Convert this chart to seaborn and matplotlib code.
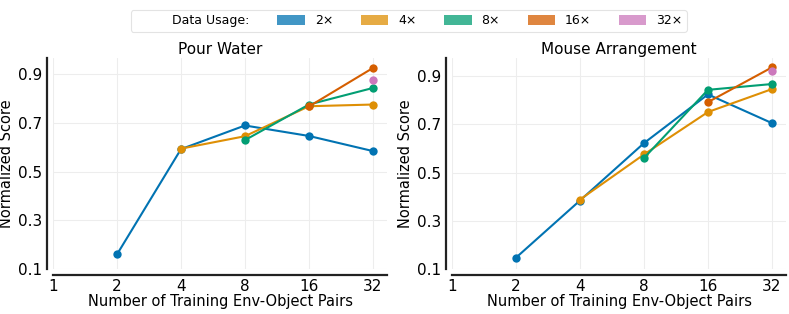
import numpy as np
import pandas as pd
import matplotlib
matplotlib.use("Agg")
import matplotlib.pyplot as plt
import seaborn as sns
from matplotlib.patches import Patch

sns.set_theme(style="whitegrid")
plt.rcParams['font.family'] = ['DejaVu Sans']
plt.rcParams['text.color'] = 'black'
plt.rcParams['axes.labelcolor'] = 'black'
plt.rcParams['xtick.color'] = 'black'
plt.rcParams['ytick.color'] = 'black'

usages = ["2×", "4×", "8×", "16×", "32×"]
palette = sns.color_palette("colorblind")
usage_colors = [palette[0], palette[1], palette[2], palette[3], palette[4]]

# Pour Water
pw_2x_x = [2, 4, 8, 16, 32]
pw_2x_y = [0.160, 0.592, 0.689, 0.646, 0.584]
pw_4x_x = [4, 8, 16, 32]
pw_4x_y = [0.594, 0.645, 0.768, 0.775]
pw_8x_x = [8, 16, 32]
pw_8x_y = [0.629, 0.775, 0.843]
pw_16x_x = [16, 32]
pw_16x_y = [0.767, 0.925]
pw_32x_x = [32]
pw_32x_y = [0.877]

# Mouse Arrangement
ma_2x_x = [2, 4, 8, 16, 32]
ma_2x_y = [0.147, 0.384, 0.622, 0.824, 0.705]
ma_4x_x = [4, 8, 16, 32]
ma_4x_y = [0.388, 0.575, 0.751, 0.846]
ma_8x_x = [8, 16, 32]
ma_8x_y = [0.560, 0.843, 0.867]
ma_16x_x = [16, 32]
ma_16x_y = [0.792, 0.936]
ma_32x_x = [32]
ma_32x_y = [0.922]

x_ticks = [1, 2, 4, 8, 16, 32]
y_ticks = [0.1, 0.3, 0.5, 0.7, 0.9]
titles = ["Pour Water", "Mouse Arrangement"]


def build(xs_list, ys_list):
    rows = []
    for u, xs, ys in zip(usages, xs_list, ys_list):
        for x, y in zip(xs, ys):
            rows.append({"pairs": x, "score": y, "usage": u})
    return pd.DataFrame(rows)


df_pw = build([pw_2x_x, pw_4x_x, pw_8x_x, pw_16x_x, pw_32x_x],
              [pw_2x_y, pw_4x_y, pw_8x_y, pw_16x_y, pw_32x_y])
df_ma = build([ma_2x_x, ma_4x_x, ma_8x_x, ma_16x_x, ma_32x_x],
              [ma_2x_y, ma_4x_y, ma_8x_y, ma_16x_y, ma_32x_y])

fig = plt.figure(figsize=(7.89, 3.14), dpi=100)
ax1 = fig.add_axes([0.0672, 0.1433, 0.4233, 0.672])
ax2 = fig.add_axes([0.5729, 0.1433, 0.4233, 0.672])

ylims = [(0.1, 0.966), (0.1, 0.975)]
for ax, df, title, yl in zip([ax1, ax2], [df_pw, df_ma], titles, ylims):
    sns.lineplot(data=df, x="pairs", y="score", hue="usage", hue_order=usages,
                 palette=usage_colors, marker="o", markersize=6,
                 markeredgewidth=0, linewidth=1.5, ax=ax, legend=False)
    ax.set_xscale("log", base=2)
    ax.set_xlim(1, 2 ** 5.22)
    ax.set_ylim(*yl)
    ax.set_xticks(x_ticks)
    ax.set_xticklabels([str(t) for t in x_ticks])
    ax.set_yticks(y_ticks)
    ax.set_yticklabels([f"{t:.1f}" for t in y_ticks])
    ax.minorticks_off()
    ax.tick_params(axis="both", labelsize=11, length=0, pad=3)
    ax.grid(True, color="#ededed", linewidth=0.8)
    ax.set_xlabel("Number of Training Env-Object Pairs", fontsize=10.5, labelpad=0)
    ax.set_ylabel("Normalized Score", fontsize=10.5, labelpad=3)
    ax.set_title(title, fontsize=11, pad=3)
    for s in ["top", "right"]:
        ax.spines[s].set_visible(False)
    for s in ["left", "bottom"]:
        ax.spines[s].set_color("#222222")
        ax.spines[s].set_linewidth(1.6)
        ax.spines[s].set_position(("outward", 4.5))

handles = [Patch(facecolor="none", edgecolor="none")]
labels = ["Data Usage:"]
for u, c in zip(usages, usage_colors):
    handles.append(Patch(facecolor=c, edgecolor="none", alpha=0.75))
    labels.append(u)

leg = fig.legend(handles, labels, loc="upper center", bbox_to_anchor=(0.518, 0.988),
                 ncol=6, fontsize=9, frameon=True, handlelength=2.2,
                 handleheight=0.75, columnspacing=2.2, handletextpad=0.8,
                 borderpad=0.35, fancybox=True)
leg.get_frame().set_edgecolor("#dddddd")
leg.get_frame().set_linewidth(0.8)

fig.savefig("out.png", dpi=100)
